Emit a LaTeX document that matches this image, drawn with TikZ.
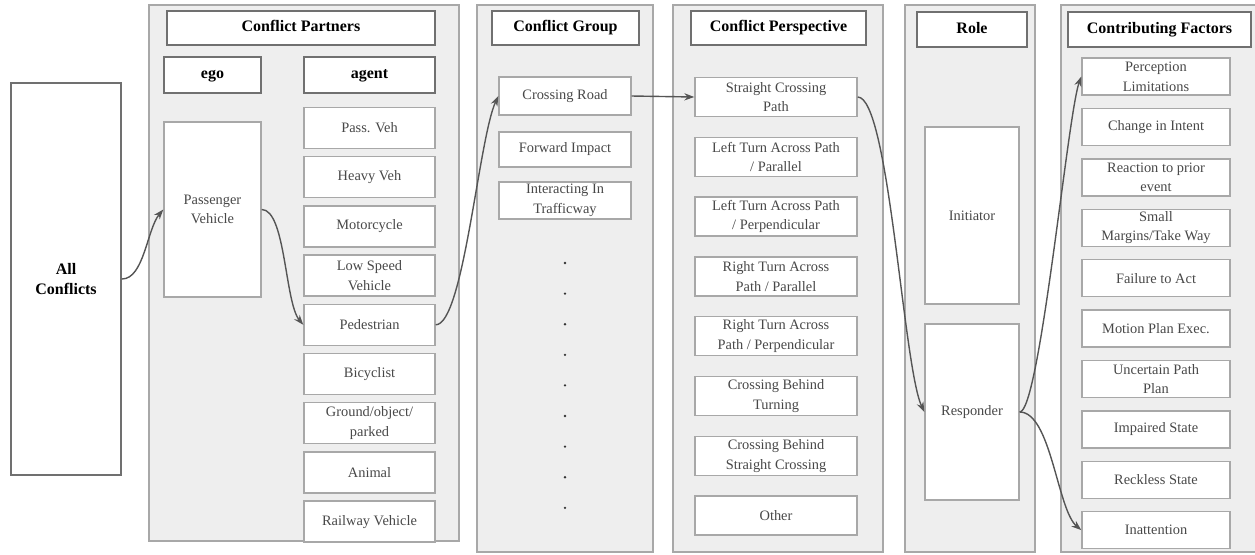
\documentclass[tikz,border=0pt]{standalone}
\usepackage{fontspec}
\setmainfont{Liberation Serif}
\usepackage{tikz}
\usetikzlibrary{arrows.meta,positioning}

\definecolor{panelgray}{HTML}{EEEEEE}
\definecolor{linegray}{HTML}{A8A8A8}
\definecolor{headgray}{HTML}{707070}
\definecolor{textgray}{HTML}{484848}
\definecolor{arrowgray}{HTML}{555555}

\begin{document}
\begin{tikzpicture}
[x=0.5pt,y=-0.5pt]
\tikzset{
	panel/.style = {draw=linegray, fill=panelgray, line width=0.8pt},
	item/.style = {rectangle, draw=linegray, fill=white, line width=0.7pt, align=center, inner xsep=1pt, inner ysep=0pt, text=textgray, font=\fontsize{7.2}{9.8}\selectfont},
	head/.style = {rectangle, draw=headgray, fill=white, line width=0.9pt, align=center, inner sep=1pt, font=\fontsize{8}{10}\selectfont\bfseries},
	title/.style = {head, text height=5.6pt, text depth=1.8pt},
	partner/.style = {item, minimum width=65.5pt, minimum height=20.5pt},
	groupitem/.style = {item, minimum width=66pt, minimum height=18.5pt},
	persp/.style = {item, minimum width=81pt, minimum height=19.5pt},
	factor/.style = {item, minimum width=74pt, minimum height=18.5pt},
	link/.style = {draw=arrowgray, line width=0.7pt, -{Stealth[length=5pt,width=3.6pt]}}
}

\useasboundingbox (0,0) rectangle (1255,554);

% columns
\draw[panel] (149,5) rectangle (459,541);
\draw[panel] (477,5) rectangle (653,552);
\draw[panel] (673,5) rectangle (883,552);
\draw[panel] (905,5) rectangle (1035,552);
\draw[panel] (1061,5) rectangle (1262,552);

\node[head, minimum width=55pt, minimum height=196pt] (all) at (66,279) {All\\Conflicts};

% Conflict Partners
\node[title, minimum width=134pt, minimum height=17pt] (partners) at (301,28) {Conflict Partners};
\node[title, minimum width=48.5pt, minimum height=18pt] (ego) at (212.5,75) {ego};
\node[title, minimum width=65.5pt, minimum height=18pt] (agent) at (369.5,75) {agent};
\node[item, minimum width=48.5pt, minimum height=87.5pt] (passveh) at (212.5,209.5) {Passenger\\Vehicle};
\node[partner] (pass) at (369.5,128) {Pass. Veh};
\node[partner, below=3.4pt of pass] (heavy) {Heavy Veh};
\node[partner, below=3.4pt of heavy] (moto) {Motorcycle};
\node[partner, below=3.4pt of moto] (lowspeed) {Low Speed\\Vehicle};
\node[partner, below=3.4pt of lowspeed] (ped) {Pedestrian};
\node[partner, below=3.4pt of ped] (bike) {Bicyclist};
\node[partner, below=3.4pt of bike] (ground) {Ground/object/\\parked};
\node[partner, below=3.4pt of ground] (animal) {Animal};
\node[partner, below=3.4pt of animal] (rail) {Railway Vehicle};

% Conflict Group
\node[title, minimum width=73.5pt, minimum height=17pt] (group) at (565.5,28) {Conflict Group};
\node[groupitem, minimum height=19pt] (crossroad) at (565,96) {Crossing Road};
\node[groupitem, minimum height=17.5pt] (forward) at (565,149.5) {Forward Impact};
\node[groupitem] (interact) at (565,200.5) {Interacting In\\Trafficway};
\foreach \i in {0,...,8}
	\fill[textgray!70!black] (565,{263+30.6*\i}) circle (1.3);

% Conflict Perspective
\node[title, minimum width=87.5pt, minimum height=17pt] (perspective) at (778.5,28) {Conflict Perspective};
\node[persp] (straight) at (776,97) {Straight Crossing\\Path};
\node[persp, below=9.7pt of straight] (ltapar) {Left Turn Across Path\\/ Parallel};
\node[persp, below=9.7pt of ltapar] (ltaperp) {Left Turn Across Path\\/ Perpendicular};
\node[persp, below=9.7pt of ltaperp] (rtapar) {Right Turn Across\\Path / Parallel};
\node[persp, below=9.7pt of rtapar] (rtaperp) {Right Turn Across\\Path / Perpendicular};
\node[persp, below=9.7pt of rtaperp] (behindturn) {Crossing Behind\\Turning};
\node[persp, below=9.7pt of behindturn] (behindstraight) {Crossing Behind\\Straight Crossing};
\node[persp, below=9.7pt of behindstraight] (other) {Other};

% Role
\node[title, minimum width=55pt, minimum height=17.5pt] (role) at (972,29.5) {Role};
\node[item, minimum width=47pt, minimum height=88.5pt] (initiator) at (972,215.5) {Initiator};
\node[item, minimum width=47pt, minimum height=88pt] (responder) at (972,412) {Responder};

% Contributing Factors
\node[title, minimum width=91.5pt, minimum height=17.5pt] (factors) at (1159.5,29.5) {Contributing Factors};
\node[factor] (perception) at (1156,76.5) {Perception\\Limitations};
\node[factor, below=6pt of perception] (intent) {Change in Intent};
\node[factor, below=6pt of intent] (prior) {Reaction to prior\\event};
\node[factor, below=6pt of prior] (margins) {Small\\Margins/Take Way};
\node[factor, below=6pt of margins] (failure) {Failure to Act};
\node[factor, below=6pt of failure] (motion) {Motion Plan Exec.};
\node[factor, below=6pt of motion] (uncertain) {Uncertain Path\\Plan};
\node[factor, below=6pt of uncertain] (impaired) {Impaired State};
\node[factor, below=6pt of impaired] (reckless) {Reckless State};
\node[factor, below=6pt of reckless] (inattention) {Inattention};

% links
\draw[link] (all.east) to[out=0,in=230,out looseness=0.7,in looseness=0.8] (passveh.west);
\draw[link] (passveh.east) to[out=0,in=130,out looseness=0.5,in looseness=0.6] (ped.west);
\draw[link] (ped.east) to[out=0,in=245,out looseness=0.3,in looseness=0.5] (crossroad.west);
\draw[link] (crossroad.east) -- (straight.west);
\draw[link] (straight.east) to[out=0,in=115,out looseness=0.25,in looseness=0.4] (responder.west);
\draw[link] (responder.east) to[out=0,in=250,out looseness=0.15,in looseness=0.3] (perception.west);
\draw[link] (responder.east) to[out=0,in=140,out looseness=0.6,in looseness=0.6] (inattention.west);
\end{tikzpicture}
\end{document}
